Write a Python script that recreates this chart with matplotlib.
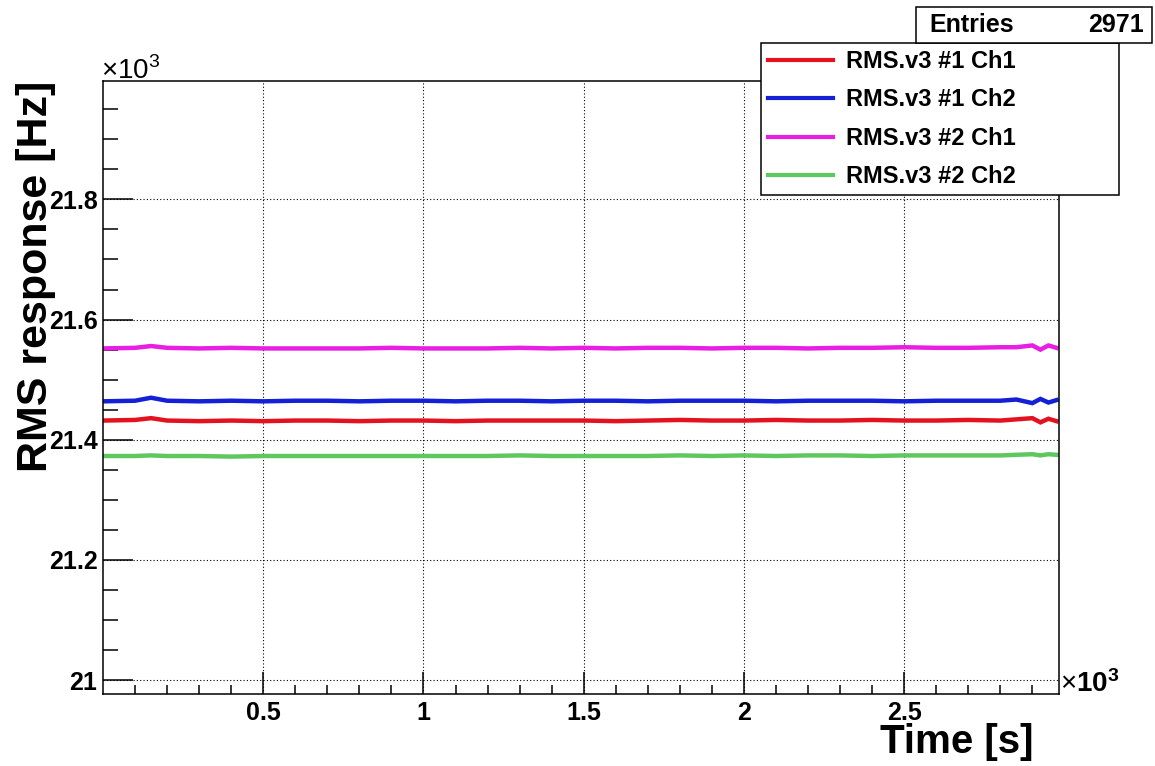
import matplotlib
matplotlib.use("Agg")
import matplotlib.pyplot as plt
from matplotlib.patches import Rectangle
from matplotlib.ticker import FixedLocator, FuncFormatter

plt.rcParams['font.family'] = ['Liberation Sans', 'DejaVu Sans']
plt.rcParams['mathtext.fontset'] = 'custom'
plt.rcParams['mathtext.rm'] = 'Liberation Sans'
plt.rcParams['mathtext.bf'] = 'Liberation Sans:bold'

# sample times [s] and RMS response [Hz] per board/channel
time_s = [0, 100, 150, 200, 300, 400, 500, 600, 700, 800, 900, 1000, 1100, 1200,
          1300, 1400, 1500, 1600, 1700, 1800, 1900, 2000, 2100, 2200, 2300, 2400,
          2500, 2600, 2700, 2800, 2850, 2900, 2925, 2950, 2975]
b1_ch1 = [21432, 21433, 21436, 21432, 21431, 21432, 21431, 21432, 21432, 21431,
          21432, 21432, 21431, 21432, 21432, 21432, 21432, 21431, 21432, 21433,
          21432, 21432, 21433, 21432, 21432, 21433, 21432, 21432, 21433, 21432,
          21434, 21436, 21429, 21435, 21431]
b1_ch2 = [21464, 21465, 21470, 21465, 21464, 21465, 21464, 21465, 21465, 21464,
          21465, 21465, 21464, 21465, 21465, 21464, 21465, 21465, 21464, 21465,
          21465, 21465, 21464, 21465, 21465, 21465, 21464, 21465, 21465, 21465,
          21467, 21461, 21468, 21462, 21466]
b2_ch1 = [21552, 21553, 21556, 21553, 21552, 21553, 21552, 21552, 21552, 21552,
          21553, 21552, 21552, 21552, 21553, 21552, 21553, 21552, 21553, 21553,
          21552, 21553, 21553, 21552, 21553, 21553, 21554, 21553, 21553, 21554,
          21554, 21557, 21550, 21557, 21553]
b2_ch2 = [21373, 21373, 21374, 21373, 21373, 21372, 21373, 21373, 21373, 21373,
          21373, 21373, 21373, 21373, 21374, 21373, 21373, 21373, 21373, 21374,
          21373, 21374, 21373, 21374, 21374, 21373, 21374, 21374, 21374, 21374,
          21375, 21376, 21374, 21376, 21375]

series = [
    ("RMS.v3 #1 Ch1", b1_ch1, "#e4121e"),
    ("RMS.v3 #1 Ch2", b1_ch2, "#1420d6"),
    ("RMS.v3 #2 Ch1", b2_ch1, "#e81ee2"),
    ("RMS.v3 #2 Ch2", b2_ch2, "#5ec85e"),
]
n_entries = 2971

W, H = 1155, 766
fig = plt.figure(figsize=(W / 100, H / 100), dpi=100)
ax = fig.add_axes([103 / W, 1 - 694 / H, (1059 - 103) / W, (694 - 81) / H])

lines = []
for label, vals, color in series:
    ln, = ax.plot(time_s, vals, color=color, lw=3.2, label=label,
                  solid_joinstyle='miter')
    lines.append(ln)

ax.set_xlim(0, 2983)
ax.set_ylim(20977, 21997)

ax.xaxis.set_major_locator(FixedLocator([500, 1000, 1500, 2000, 2500]))
ax.xaxis.set_minor_locator(FixedLocator([t for t in range(100, 2981, 100)]))
ax.yaxis.set_major_locator(FixedLocator([21000, 21200, 21400, 21600, 21800]))
ax.yaxis.set_minor_locator(FixedLocator([v for v in range(21000, 22000, 50)]))
kilo = FuncFormatter(lambda v, pos: f"{v / 1000:g}")
ax.xaxis.set_major_formatter(kilo)
ax.yaxis.set_major_formatter(kilo)

ax.tick_params(axis='both', which='both', direction='in', width=1.1,
               top=False, right=False, colors='black')
ax.tick_params(axis='x', which='major', length=15.5, pad=5)
ax.tick_params(axis='x', which='minor', length=6.5)
ax.tick_params(axis='y', which='major', length=21.5, pad=4)
ax.tick_params(axis='y', which='minor', length=10.5)
for lab in ax.get_xticklabels() + ax.get_yticklabels():
    lab.set_fontsize(18)
    lab.set_fontweight('bold')
for sp in ax.spines.values():
    sp.set_linewidth(1.1)
    sp.set_color('black')

ax.grid(True, which='major', color='black', linestyle=(0, (1, 2)), linewidth=0.8)

# axis titles
fig.text(36 / W, 1 - 276 / H, "RMS response [Hz]", rotation=90, fontsize=31,
         fontweight='bold', ha='center', va='center')
fig.text(1033 / W, 1 - 742 / H, "Time [s]", fontsize=29, fontweight='bold',
         ha='right', va='center')

# exponent markers
fig.text(101 / W, 1 - 79 / H, r"$\times10^{3}$", fontsize=20, ha='left', va='baseline')
fig.text(1060 / W, 1 - 692 / H, r"$\times\mathbf{10^{3}}$", fontsize=20,
         ha='left', va='baseline')

# stats box
fig.patches.append(Rectangle((916 / W, 1 - 43 / H), (1152 - 916) / W, 36 / H,
                             transform=fig.transFigure, fill=True, facecolor='white',
                             edgecolor='black', linewidth=1.1))
fig.text(929 / W, 1 - 25 / H, "Entries", fontsize=18, fontweight='bold',
         ha='left', va='center')
fig.text(1144 / W, 1 - 25 / H, f"{n_entries}", fontsize=18, fontweight='bold',
         ha='right', va='center')

leg = ax.legend(handles=lines, loc='upper left', mode='expand',
                bbox_to_anchor=(761 / W, 1 - 195 / H, (1119 - 761) / W, 152 / H),
                bbox_transform=fig.transFigure, borderaxespad=0,
                prop={'weight': 'bold', 'size': 17}, frameon=True, fancybox=False,
                framealpha=1, edgecolor='black', handlelength=2.75,
                handletextpad=0.55, borderpad=0.3, labelspacing=0.65)
leg.get_frame().set_linewidth(1.1)
for h in leg.get_lines():
    h.set_linewidth(3)

fig.savefig("out.png", dpi=100)
